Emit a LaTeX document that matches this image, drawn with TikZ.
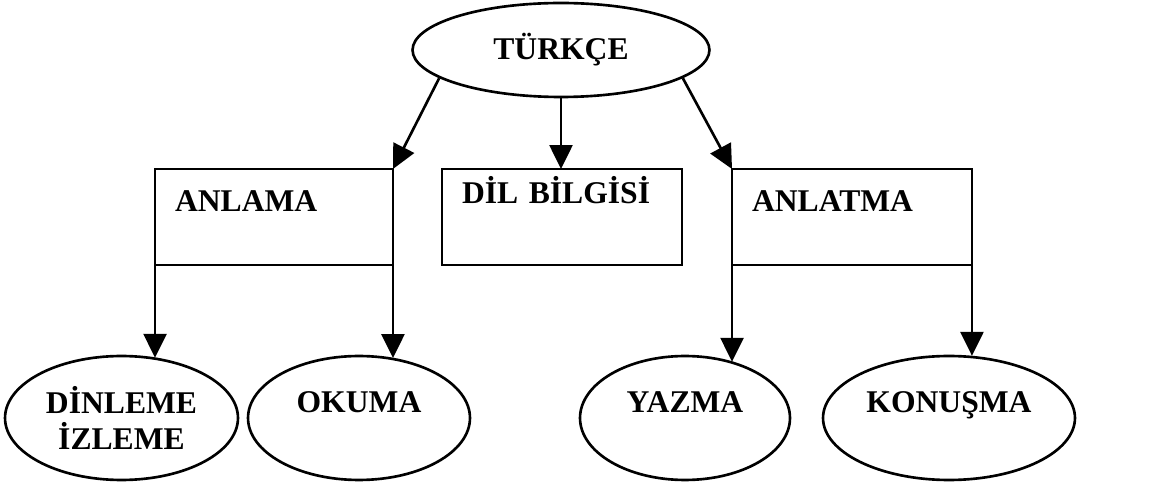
\documentclass[tikz,border=0pt]{standalone}
\usepackage{fontspec}
\setmainfont{Liberation Serif}
\usetikzlibrary{shapes.geometric}
\usetikzlibrary{arrows.meta}

\begin{document}
\begin{tikzpicture}[x=0.02cm,y=-0.02cm,
		%Option for nice arrows%
		>={Triangle[length=0.48cm,width=0.46cm]},%
		line width=1.5pt,%
		font=\fontsize{18}{20}\selectfont\bfseries,%
		oval/.style={draw, ellipse, inner sep=0pt,
			minimum height=2.48cm},%
		tek/.style={text height=0.42cm, text depth=0.64cm},%
		kutu/.style 2 args={draw, rectangle, text width=#1,
			inner xsep=0.4cm, inner ysep=0pt, outer sep=0pt,
			minimum height=1.92cm, align=left,
			text height=0.42cm, text depth=#2}%
		]
		%% page size
		\useasboundingbox (0,0) rectangle (1164,489);
		%
		\node[oval, minimum width=5.94cm, minimum height=1.88cm] (turkce) at (561,50) {TÜRKÇE};
		%
		%% middle row
		\node[kutu={3.96cm}{0.64cm}] (anlama) at (274,217) {ANLAMA};
		\node[kutu={4.0cm}{0.94cm}] (dil) at (562,217) {DİL BİLGİSİ};
		\node[kutu={4.0cm}{0.64cm}] (anlatma) at (852,217) {ANLATMA};
		%
		%% bottom row
		\node[oval, minimum width=4.66cm, align=center] (dinleme) at (121.5,418) {DİNLEME\\İZLEME};
		\node[oval, tek, minimum width=4.44cm] (okuma) at (359,418) {OKUMA};
		\node[oval, tek, minimum width=4.2cm] (yazma) at (685,418) {YAZMA};
		\node[oval, tek, minimum width=5.04cm] (konusma) at (949,418) {KONUŞMA};
		%
		%% arrows
		\draw[->] (turkce.193) -- (anlama.north east);
		\draw[->] (turkce.south) -- (turkce.south |- dil.north);
		\draw[->] (turkce.347) -- (anlatma.north west);
		%
		\draw[->] (anlama.south west) -- (anlama.south west |- dinleme.59);
		\draw[->] (anlama.south east) -- (anlama.south east |- okuma.59);
		\draw[->] (anlatma.south west) -- (anlatma.south west |- yazma.49);
		\draw[->] (anlatma.south east) -- (anlatma.south east |- konusma.69);
	\end{tikzpicture}
\end{document}
